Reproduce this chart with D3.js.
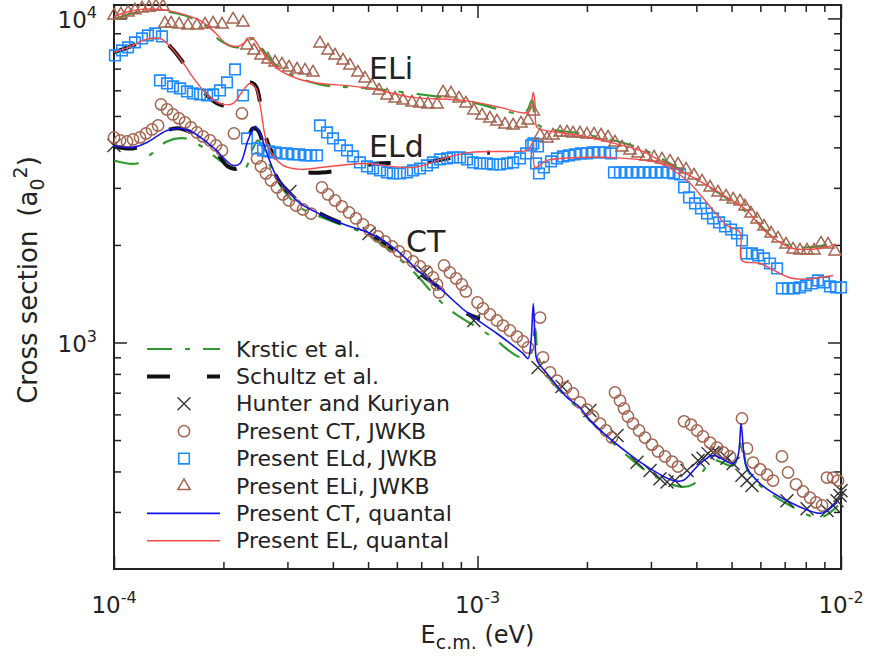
<!DOCTYPE html>
<html>
<head>
<meta charset="utf-8">
<script src="https://cdn.jsdelivr.net/npm/d3@7"></script>
<style>
  body { margin: 0; background: #fff; }
  svg text { font-family: "DejaVu Sans", sans-serif; fill: #222; }
</style>
</head>
<body>
<svg id="chart" width="872" height="659"></svg>
<script>
// energies in eV, cross sections in a0^2
const krsticEl = [[1e-4,9930],[1.179e-4,10510],[1.381e-4,10510],[1.568e-4,10210],[1.78e-4,9515],[1.957e-4,8553],[2.193e-4,8140],[2.336e-4,8553],[2.458e-4,8676],[2.553e-4,8080],[2.86e-4,7010],[3.687e-4,6256],[5.06e-4,6081],[9.12e-4,5584],[1.351e-3,5128],[1.413e-3,5584],[1.449e-3,4775],[1.534e-3,4577],[1.914e-3,4417],[2.8e-3,3971],[3.915e-3,3231],[5.513e-3,2519],[6.67e-3,2064],[7.71e-3,1964],[9.63e-3,2021]];
const krsticCt = [[1e-4,3645],[1.157e-4,3568],[1.272e-4,3831],[1.399e-4,4173],[1.568e-4,4263],[1.757e-4,3999],[1.957e-4,3645],[2.152e-4,3443],[2.293e-4,3443],[2.397e-4,3914],[2.489e-4,4202],[2.586e-4,3914],[2.808e-4,3162],[3.25e-4,2610],[3.927e-4,2380],[5.06e-4,2125],[6.52e-4,1692],[8.245e-4,1282],[1.082e-3,1051],[1.309e-3,900],[1.394e-3,912],[1.44e-3,1105],[1.467e-3,912],[1.553e-3,791],[1.914e-3,617],[2.578e-3,448],[3.04e-3,389],[3.606e-3,359],[3.915e-3,365],[4.445e-3,432],[5.05e-3,417],[5.34e-3,498],[5.513e-3,408],[5.99e-3,362],[7.24e-3,314],[8.75e-3,288],[9.81e-3,314]];
const schultzEl = [[1e-4,7852],[1.128e-4,8255],[1.202e-4,8553],[1.338e-4,8676],[1.399e-4,8373],[1.52e-4,7524],[1.649e-4,6574],[1.837e-4,5663],[1.994e-4,5389],[2.126e-4,5466],[2.264e-4,5995],[2.366e-4,6346],[2.458e-4,6167],[2.537e-4,5276],[2.602e-4,4417],[2.686e-4,3971],[2.917e-4,3493],[3.25e-4,3371],[3.733e-4,3347],[4.75e-4,3493],[5.29e-4,3568],[7.08e-4,3594],[7.74e-4,3645],[9.537e-4,3804],[1.082e-3,3859]];
const schultzCt = [[1e-4,4027],[1.128e-4,3971],[1.232e-4,4114],[1.399e-4,4512],[1.52e-4,4577],[1.649e-4,4417],[1.873e-4,3971],[2.058e-4,3493],[2.18e-4,3443],[2.293e-4,3914],[2.412e-4,4577],[2.489e-4,4512],[2.57e-4,4114],[2.686e-4,3568],[2.86e-4,3118],[3.048e-4,2884],[3.25e-4,2743],[3.687e-4,2500],[4.236e-4,2330],[5.06e-4,2170],[6.004e-4,1896],[6.947e-4,1633],[7.885e-4,1468],[9.357e-4,1229],[1.016e-3,1186]];
const hunter = [[1e-4,4055],[3.048e-4,2924],[5.03e-4,2170],[7.13e-4,1644],[9.772e-4,1169],[1.467e-3,837],[1.708e-3,731],[2.039e-3,617],[2.42e-3,516],[2.746e-3,427],[2.983e-3,403],[3.178e-3,380],[3.322e-3,371],[3.494e-3,375],[3.771e-3,403],[4.043e-3,432],[4.173e-3,439],[4.307e-3,454],[4.445e-3,458],[4.56e-3,458],[4.858e-3,439],[5.05e-3,423],[5.34e-3,389],[5.513e-3,375],[5.69e-3,362],[7.1e-3,325],[8.065e-3,307],[9.15e-3,303],[9.51e-3,314],[9.75e-3,325],[9.94e-3,337],[1e-2,349]];
const ctJwkb = [[1e-4,4293],[1.039e-4,4202],[1.086e-4,4173],[1.128e-4,4232],[1.179e-4,4293],[1.225e-4,4417],[1.272e-4,4543],[1.322e-4,4674],
  [1.347e-4,5428],[1.399e-4,5238],[1.453e-4,5055],[1.51e-4,4914],[1.568e-4,4775],[1.628e-4,4610],[1.691e-4,4447],[1.757e-4,4324],[1.837e-4,4202],[1.908e-4,4055],[1.982e-4,3914],[2.138e-4,4417],[2.249e-4,5092],
  [2.474e-4,3698],[2.537e-4,3493],[2.618e-4,3323],[2.704e-4,3162],[2.808e-4,3009],[2.917e-4,2863],[3.03e-4,2743],[3.168e-4,2647],[3.311e-4,2574],[3.483e-4,2500],
  [3.733e-4,3009],[3.879e-4,2863],[4.055e-4,2743],[4.236e-4,2629],[4.431e-4,2519],[4.632e-4,2414],[4.842e-4,2313],[5.06e-4,2217],[5.321e-4,2125],[5.565e-4,2050],[5.82e-4,1979],[6.08e-4,1910],[6.353e-4,1843],[6.645e-4,1778],[6.947e-4,1717],[7.26e-4,1656],[7.54e-4,1587],[7.74e-4,1510],[7.84e-4,1427],
  [8.09e-4,1729],[8.395e-4,1644],[8.73e-4,1576],[9.057e-4,1510],[9.29e-4,1437],[1e-3,1329],[1.035e-3,1273],[1.082e-3,1220],[1.131e-3,1169],[1.175e-3,1128],[1.228e-3,1089],[1.284e-3,1043],[1.334e-3,1007],[1.377e-3,965],[1.486e-3,1194],[1.514e-3,900],[1.583e-3,808],[1.654e-3,763],[1.752e-3,726],[1.831e-3,696],[1.914e-3,653],[2.0e-3,621],[2.078e-3,591],[2.173e-3,562],[2.257e-3,535],[2.344e-3,509],
  [2.389e-3,701],[2.466e-3,662],[2.529e-3,626],[2.594e-3,591],[2.678e-3,562],[2.782e-3,535],[2.889e-3,509],[3.02e-3,484],[3.138e-3,461],[3.28e-3,445],[3.428e-3,429],[3.561e-3,414],
  [3.7e-3,571],[3.867e-3,558],[4.017e-3,535],[4.173e-3,513],[4.362e-3,491],[4.56e-3,474],[4.736e-3,458],[4.95e-3,445],[5.34e-3,583],[5.513e-3,471],[5.73e-3,426],[5.99e-3,406],[6.26e-3,391],[6.5e-3,375],[6.88e-3,445],[7.15e-3,397],[7.52e-3,365],[7.86e-3,347],[8.22e-3,332],[8.54e-3,321],[8.87e-3,314],[9.15e-3,383],[9.51e-3,383],[9.81e-3,375]];
const eldJwkb = [[1.006e-4,7688],[1.052e-4,7965],[1.093e-4,8140],[1.142e-4,8435],[1.194e-4,8676],[1.24e-4,8861],[1.297e-4,8991],[1.355e-4,8800],
  [1.338e-4,6437],[1.399e-4,6300],[1.453e-4,6167],[1.52e-4,6081],[1.588e-4,5953],[1.649e-4,5868],[1.724e-4,5826],[1.803e-4,5785],[1.873e-4,5826],[1.957e-4,5995],[2.046e-4,6346],[2.152e-4,6960],[2.264e-4,5785],
  [2.322e-4,4263],[2.474e-4,3971],[2.57e-4,3914],[2.669e-4,3887],[2.773e-4,3859],[2.88e-4,3831],[2.992e-4,3831],[3.108e-4,3804],[3.228e-4,3804],[3.354e-4,3777],[3.483e-4,3777],[3.618e-4,3777],
  [3.687e-4,4674],[3.855e-4,4447],[4.004e-4,4263],[4.185e-4,4055],[4.375e-4,3914],[4.545e-4,3750],[4.75e-4,3594],[4.966e-4,3493],[5.158e-4,3443],[5.393e-4,3395],[5.636e-4,3347],[5.853e-4,3323],[6.12e-4,3323],[6.397e-4,3347],[6.645e-4,3395],[6.947e-4,3443],[7.26e-4,3518],[7.54e-4,3594],[7.885e-4,3671],[8.245e-4,3698],[8.56e-4,3724],[8.953e-4,3724],[9.357e-4,3671],[9.72e-4,3594],[1.016e-3,3568],[1.062e-3,3568],[1.103e-3,3543],[1.153e-3,3543],[1.206e-3,3568],[1.253e-3,3594],[1.309e-3,3698],[1.36e-3,3831],[1.404e-3,4055],[1.424e-3,4114],[1.467e-3,4027],[1.449e-3,3568],[1.476e-3,3323],[1.523e-3,3468],
  [1.593e-3,3619],[1.654e-3,3698],[1.719e-3,3750],[1.785e-3,3777],[1.854e-3,3804],[1.926e-3,3831],[2.0e-3,3831],[2.078e-3,3859],[2.159e-3,3859],[2.243e-3,3859],[2.33e-3,3831],
  [2.374e-3,3347],[2.466e-3,3347],[2.562e-3,3347],[2.661e-3,3347],[2.764e-3,3347],[2.871e-3,3347],[2.983e-3,3347],[3.097e-3,3347],[3.218e-3,3347],[3.343e-3,3347],[3.472e-3,3323],[3.607e-3,3300],
  [3.7e-3,3009],[3.818e-3,2803],[3.966e-3,2686],[4.12e-3,2592],[4.279e-3,2500],[4.445e-3,2414],[4.618e-3,2347],[4.797e-3,2280],[4.983e-3,2232],[5.176e-3,2170],[5.34e-3,2064],[5.48e-3,1883],[5.69e-3,1883],[5.912e-3,1856],[6.14e-3,1817],[6.38e-3,1753],[6.67e-3,1692],
  [6.88e-3,1468],[7.15e-3,1468],[7.425e-3,1468],[7.71e-3,1479],[8.01e-3,1500],[8.32e-3,1521],[8.645e-3,1554],[8.98e-3,1532],[9.33e-3,1489],[9.69e-3,1479],[1e-2,1479]];
const eliJwkb = [[1e-4,10210],[1.045e-4,10290],[1.093e-4,10430],[1.142e-4,10590],[1.194e-4,10740],[1.248e-4,10810],[1.305e-4,10890],[1.364e-4,10890],
  [1.38e-4,9651],[1.436e-4,9651],[1.51e-4,9583],[1.598e-4,9515],[1.691e-4,9515],[1.78e-4,9583],[1.873e-4,9651],[1.982e-4,9583],[2.126e-4,9930],[2.264e-4,9720],
  [2.322e-4,8255],[2.427e-4,7965],[2.537e-4,7688],[2.652e-4,7473],[2.773e-4,7315],[2.897e-4,7211],[3.03e-4,7060],[3.188e-4,6960],[3.354e-4,6910],[3.527e-4,6813],
  [3.687e-4,8373],[3.879e-4,7965],[4.055e-4,7688],[4.266e-4,7420],[4.457e-4,7160],[4.688e-4,6813],[4.902e-4,6529],[5.126e-4,6213],[5.358e-4,5995],[5.636e-4,5785],[5.93e-4,5663],[6.237e-4,5584],[6.604e-4,5505],[6.947e-4,5466],[7.306e-4,5428],[7.74e-4,5428],
  [8.04e-4,5910],[8.455e-4,5868],[8.895e-4,5663],[9.29e-4,5466],[9.772e-4,5200],[1.029e-3,5019],[1.082e-3,4914],[1.131e-3,4810],[1.19e-3,4708],[1.253e-3,4674],[1.317e-3,4742],[1.377e-3,4844],[1.424e-3,5164],
  [1.486e-3,4355],[1.553e-3,4263],[1.613e-3,4355],[1.687e-3,4447],[1.763e-3,4447],[1.831e-3,4417],[1.914e-3,4417],[2.0e-3,4385],[2.092e-3,4385],[2.187e-3,4355],[2.286e-3,4293],[2.389e-3,4143],[2.497e-3,3999],[2.628e-3,3914],[2.764e-3,3831],[2.908e-3,3750],[3.06e-3,3724],[3.218e-3,3671],[3.386e-3,3619],[3.561e-3,3543],[3.747e-3,3420],[3.941e-3,3276],[4.146e-3,3140],[4.362e-3,3009],[4.588e-3,2904],[4.827e-3,2822],[5.05e-3,2763],[5.276e-3,2724],[5.444e-3,2629],[5.654e-3,2500],[5.873e-3,2397],[6.14e-3,2280],[6.42e-3,2170],[6.71e-3,2094],[7.06e-3,2007],[7.38e-3,1936],[7.71e-3,1923],[8.065e-3,1923],[8.43e-3,1923],[8.81e-3,2021],[9.21e-3,2007],[9.63e-3,1910]];
const ctQuantal = [[1e-4,4055],[1.128e-4,3999],[1.232e-4,4143],[1.399e-4,4512],[1.52e-4,4577],[1.649e-4,4447],[1.873e-4,3999],[2.126e-4,3518],[2.222e-4,3568],[2.336e-4,4202],[2.443e-4,4642],[2.521e-4,4417],[2.636e-4,3831],[2.808e-4,3231],[3.05e-4,2884],[3.25e-4,2686],[3.758e-4,2466],[4.375e-4,2296],[5.06e-4,2170],[6.004e-4,1923],[6.947e-4,1644],[7.885e-4,1468],[9.357e-4,1238],[1.131e-3,1066],[1.334e-3,925],[1.377e-3,892],[1.404e-3,1014],[1.424e-3,1319],[1.44e-3,1014],[1.458e-3,880],[1.553e-3,802],[1.763e-3,677],[1.914e-3,630],[2.04e-3,575],[2.578e-3,458],[3.04e-3,403],[3.45e-3,375],[3.675e-3,375],[4.094e-3,423],[4.445e-3,448],[5.05e-3,423],[5.21e-3,448],[5.31e-3,562],[5.41e-3,448],[5.51e-3,411],[5.99e-3,367],[7.1e-3,325],[8.75e-3,297],[9.15e-3,303],[9.75e-3,321]];
const eliQuantal = [[1e-4,10140],[1.072e-4,10430],[1.179e-4,10660],[1.338e-4,10660],[1.52e-4,10360],[1.724e-4,9860],[1.896e-4,9050],[2.046e-4,8315],[2.193e-4,8200],[2.293e-4,8435],[2.366e-4,8740],[2.443e-4,8553],[2.521e-4,8080],[2.636e-4,7524],[2.86e-4,6910],[3.25e-4,6480],[3.687e-4,6300],[4.32e-4,6213],[5.06e-4,6081],[6.65e-4,5705],[9.12e-4,5584],[1.153e-3,5313],[1.309e-3,5128],[1.377e-3,5128],[1.404e-3,5428],[1.424e-3,5910],[1.44e-3,5428],[1.458e-3,4610],[1.534e-3,4512],[1.914e-3,4355],[2.315e-3,4143],[2.8e-3,3914],[3.177e-3,3645],[3.915e-3,3231],[4.858e-3,2803],[5.513e-3,2556],[6.06e-3,2248],[6.67e-3,2064],[7.38e-3,1950],[8.75e-3,1950],[9.63e-3,2007]];
const eldQuantal = [[1e-4,7852],[1.128e-4,8255],[1.202e-4,8553],[1.338e-4,8676],[1.399e-4,8373],[1.52e-4,7524],[1.649e-4,6574],[1.837e-4,5705],[1.994e-4,5428],[2.126e-4,5466],[2.264e-4,5995],[2.366e-4,6300],[2.458e-4,6081],[2.537e-4,5200],[2.602e-4,4355],[2.686e-4,3914],[2.917e-4,3518],[3.25e-4,3420],[3.528e-4,3443],[4.842e-4,3568],[6.65e-4,3468],[8.245e-4,3724],[9.537e-4,3859],[1.253e-3,3887],[1.368e-3,3914],[1.404e-3,4055],[1.424e-3,4173],[1.44e-3,3468],[1.553e-3,3645],[1.914e-3,3724],[2.315e-3,3724],[3.177e-3,3568],[3.77e-3,3162],[4.094e-3,2863],[4.502e-3,2519],[4.858e-3,2296],[5.276e-3,2185],[5.34e-3,1791],[5.99e-3,1753],[7.38e-3,1576],[9.51e-3,1610]];

const xMajor = [1e-4, 1e-3, 1e-2];
const xMinor = [2e-4,3e-4,4e-4,5e-4,6e-4,7e-4,8e-4,9e-4,2e-3,3e-3,4e-3,5e-3,6e-3,7e-3,8e-3,9e-3];
const yMajor = [1e3, 1e4];
const yMinor = [300,400,500,600,700,800,900,2000,3000,4000,5000,6000,7000,8000,9000];

const legendLabels = ['Krstic et al.', 'Schultz et al.', 'Hunter and Kuriyan', 'Present CT, JWKB',
  'Present ELd, JWKB', 'Present ELi, JWKB', 'Present CT, quantal', 'Present EL, quantal'];

const green = '#2f9a2f', brown = '#a3644f', sky = '#1e8cff', blue = '#1414e8', red = '#f44a4a', ink = '#222';

const svg = d3.select('#chart');
const x = d3.scaleLog().domain([1e-4, 1e-2]).range([114, 841]);
const y = d3.scaleLog().domain([200, 11000]).range([569, 5]);

// ticks, all pointing inward
function ticks(axisFn, scale, values, size, tr) {
  svg.append('g').attr('transform', tr)
    .call(axisFn(scale).tickValues(values).tickSize(size).tickSizeOuter(0).tickFormat(''))
    .call(g => g.select('.domain').remove())
    .selectAll('line').attr('stroke', ink).attr('stroke-width', 1.5);
}
ticks(d3.axisBottom, x, xMajor, -13, 'translate(0,569)');
ticks(d3.axisBottom, x, xMinor, -7, 'translate(0,569)');
ticks(d3.axisTop, x, xMajor, -13, 'translate(0,5)');
ticks(d3.axisTop, x, xMinor, -7, 'translate(0,5)');
ticks(d3.axisLeft, y, yMajor, -13, 'translate(114,0)');
ticks(d3.axisLeft, y, yMinor, -7, 'translate(114,0)');
ticks(d3.axisRight, y, yMajor, -13, 'translate(841,0)');
ticks(d3.axisRight, y, yMinor, -7, 'translate(841,0)');

svg.append('rect').attr('x', 114).attr('y', 5).attr('width', 727).attr('height', 564)
  .attr('fill', 'none').attr('stroke', ink).attr('stroke-width', 2);

// tick labels
xMajor.forEach(v => {
  const t = svg.append('text').attr('x', x(v)).attr('y', 613).attr('text-anchor', 'middle').attr('font-size', 23);
  t.append('tspan').text('10');
  t.append('tspan').attr('font-size', 16).attr('dy', -10).text(Math.round(Math.log10(v)));
});
yMajor.forEach(v => {
  const t = svg.append('text').attr('x', 97).attr('y', y(v) + 10).attr('text-anchor', 'end').attr('font-size', 23);
  t.append('tspan').text('10');
  t.append('tspan').attr('font-size', 16).attr('dy', -10).text(Math.round(Math.log10(v)));
});

// axis titles
const xt = svg.append('text').attr('x', x(1e-3)).attr('y', 643).attr('text-anchor', 'middle').attr('font-size', 24);
xt.append('tspan').text('E');
xt.append('tspan').attr('font-size', 19).attr('dy', 6).text('c.m.');
xt.append('tspan').attr('dy', -6).text(' (eV)');

const yt = svg.append('text').attr('transform', 'translate(37,280) rotate(-90)')
  .attr('text-anchor', 'middle').attr('font-size', 26);
yt.append('tspan').text('Cross section');
yt.append('tspan').attr('dx', 14).text('(a');
yt.append('tspan').attr('font-size', 19).attr('dy', 7).text('0');
yt.append('tspan').attr('font-size', 19).attr('dy', -17).text('2');
yt.append('tspan').attr('dy', 10).text(')');

const line = d3.line().x(d => x(d[0])).y(d => y(d[1])).curve(d3.curveCatmullRom.alpha(0.5));
function drawLine(data, color, width, dash) {
  svg.append('path').datum(data).attr('d', line).attr('fill', 'none')
    .attr('stroke', color).attr('stroke-width', width).attr('stroke-dasharray', dash || null);
}

const crossPath = 'M-6.5,-6.5L6.5,6.5M-6.5,6.5L6.5,-6.5';
const circlePath = d3.symbol(d3.symbolCircle, 100)();
const squarePath = d3.symbol(d3.symbolSquare, 112)();
const trianglePath = d3.symbol(d3.symbolTriangle, 64)();
function drawMarks(data, path, color, width) {
  svg.append('g').selectAll('path').data(data).join('path')
    .attr('transform', d => `translate(${x(d[0])},${y(d[1])})`)
    .attr('d', path).attr('fill', 'none').attr('stroke', color).attr('stroke-width', width);
}

drawLine(krsticEl, green, 2.2, '25,13,5,13');
drawLine(krsticCt, green, 2.2, '25,13,5,13');
drawLine(schultzEl, '#111', 4, '23,37');
drawLine(schultzCt, '#111', 4, '23,37');
drawMarks(hunter, crossPath, '#333', 1.4);
drawMarks(ctJwkb, circlePath, brown, 1.5);
drawMarks(eldJwkb, squarePath, sky, 1.6);
drawMarks(eliJwkb, trianglePath, brown, 1.5);
drawLine(ctQuantal, blue, 1.6);
drawLine(eliQuantal, red, 1.4);
drawLine(eldQuantal, red, 1.4);

// curve labels
[['ELi', 369, 79], ['ELd', 369, 157], ['CT', 406, 252]].forEach(([s, lx, ly]) =>
  svg.append('text').attr('x', lx).attr('y', ly).attr('font-size', 30).text(s));

// legend
const lg = svg.append('g');
legendLabels.forEach((s, i) => {
  const cy = 349 + i * 27.4;
  const row = lg.append('g').attr('transform', `translate(0,${cy})`);
  if (i === 0) row.append('line').attr('x1', 147).attr('x2', 220).attr('stroke', green).attr('stroke-width', 2.2).attr('stroke-dasharray', '25,13,5,13');
  if (i === 1) row.append('line').attr('x1', 147).attr('x2', 220).attr('stroke', '#111').attr('stroke-width', 4).attr('stroke-dasharray', '23,37');
  if (i === 2) row.append('path').attr('transform', 'translate(184,0)').attr('d', crossPath).attr('fill', 'none').attr('stroke', '#333').attr('stroke-width', 1.3);
  if (i === 3) row.append('path').attr('transform', 'translate(184,0)').attr('d', circlePath).attr('fill', 'none').attr('stroke', brown).attr('stroke-width', 1.5);
  if (i === 4) row.append('path').attr('transform', 'translate(184,0)').attr('d', squarePath).attr('fill', 'none').attr('stroke', sky).attr('stroke-width', 1.6);
  if (i === 5) row.append('path').attr('transform', 'translate(184,0)').attr('d', trianglePath).attr('fill', 'none').attr('stroke', brown).attr('stroke-width', 1.5);
  if (i === 6) row.append('line').attr('x1', 147).attr('x2', 220).attr('stroke', blue).attr('stroke-width', 1.6);
  if (i === 7) row.append('line').attr('x1', 147).attr('x2', 220).attr('stroke', red).attr('stroke-width', 1.4);
  row.append('text').attr('x', 236).attr('y', 7.5).attr('font-size', 22).text(s);
});
</script>
</body>
</html>
